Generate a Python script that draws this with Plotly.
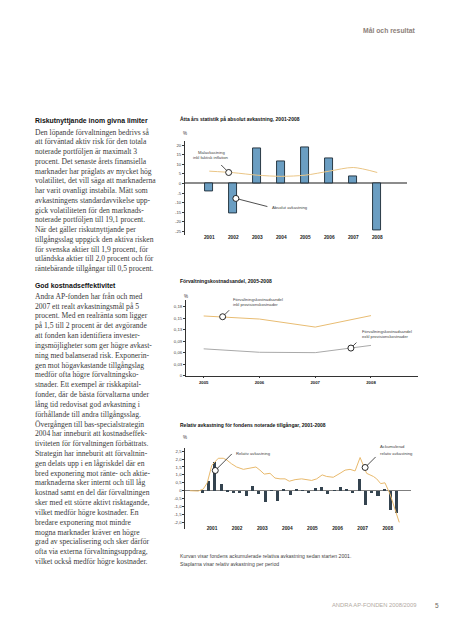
import plotly.graph_objects as go

W, H = 453, 640
# The page body adds an 8px margin around the plot div; compensate for it.
OFF = 8


def px(x):
    return (x - OFF) / W


def py(y):
    return 1 - (y - OFF) / H


# ---------------- Chart 1: absolute return ----------------
abs_years = [2001, 2002, 2003, 2004, 2005, 2006, 2007, 2008]
abs_return = [-4.0, -15.6, 18.2, 11.3, 18.9, 13.0, 3.9, -24.2]
target_return = [6.4, 5.6, 4.3, 3.7, 4.3, 6.4, 8.3, 5.7]
abs_ytick_vals = [20, 15, 10, 5, 0, -5, -10, -15, -20, -25]
abs_ytick_text = ["20", "15", "10", "5", "0", "-5", "-10", "-15", "-20", "-25"]

# ---------------- Chart 2: management cost share ----------------
cost_years = [2005, 2006, 2007, 2008]
cost_incl = [0.156, 0.148, 0.127, 0.157]
cost_excl = [0.070, 0.061, 0.060, 0.079]
cost_ytick_vals = [0, 0.03, 0.06, 0.09, 0.12, 0.15, 0.18]
cost_ytick_text = ["0", "0,03", "0,06", "0,09", "0,13", "0,15", "0,18"]

# ---------------- Chart 3: relative return ----------------
rel_years = [2001, 2002, 2003, 2004, 2005, 2006, 2007, 2008]
rel_quarterly = [
    -0.12, 0.60, 1.80, 0.40,
    -0.08, -0.15, -0.15, -0.36,
    0.29, -0.19, -0.73, 0.02,
    -0.62, 0.06, -0.29, 0.12,
    0.03, -0.17, 0.15, 0.23,
    -0.20, 0.05, 0.27, 0.10,
    -0.15, 0.75, -0.92, -0.17,
    -0.33, 0.10, -1.20, -1.38,
]
cum_time = [2000.62, 2000.95, 2001.15, 2001.31, 2001.49, 2001.62, 2001.75,
            2001.95, 2002.08, 2002.28, 2002.48, 2002.75, 2003.01, 2003.25,
            2003.41, 2003.58, 2003.81, 2004.01, 2004.21, 2004.41, 2004.58,
            2004.81, 2005.07, 2005.27, 2005.47, 2005.67, 2005.89, 2006.07,
            2006.33, 2006.60, 2006.80, 2007.00, 2007.20, 2007.40, 2007.66,
            2007.93, 2008.06, 2008.22, 2008.39, 2008.59, 2008.79, 2008.96]
cum_relative = [0.0, -0.02, 0.10, 0.50, 1.60, 1.80, 2.05,
                2.05, 1.95, 1.70, 1.50, 1.35, 1.45, 1.50,
                1.30, 1.05, 1.10, 0.80, 0.75, 0.75, 0.60,
                0.70, 0.75, 0.70, 0.65, 0.75, 1.00, 0.90,
                0.85, 1.10, 1.30, 1.35, 1.25, 2.10, 1.10,
                0.90, 0.75, 0.45, 0.50, -0.20, -1.20, -2.00]
rel_ytick_vals = [2.5, 2.0, 1.5, 1.0, 0.5, 0, -0.5, -1.0, -1.5, -2.0]
rel_ytick_text = ["2,5", "2,0", "1,5", "1,0", "0,5", "0", "-0,5", "-1,0", "-1,5", "-2,0"]

rel_x = [y + (q + 0.5) / 4 for y in rel_years for q in range(4)]

# ---------------- Body text ----------------
heading1 = "Riskutnyttjande inom givna limiter"
para1 = [
    "Den löpande förvaltningen bedrivs så",
    "att förväntad aktiv risk för den totala",
    "noterade portföljen är maximalt 3",
    "procent. Det senaste årets finansiella",
    "marknader har präglats av mycket hög",
    "volatilitet, det vill säga att marknaderna",
    "har varit ovanligt instabila. Mätt som",
    "avkastningens standardavvikelse upp-",
    "gick volatiliteten för den marknads-",
    "noterade portföljen till 19,1 procent.",
    "När det gäller riskutnyttjande per",
    "tillgångsslag uppgick den aktiva risken",
    "för svenska aktier till 1,9 procent, för",
    "utländska aktier till 2,0 procent och för",
    "räntebärande tillgångar till 0,5 procent.",
]
heading2 = "God kostnadseffektivitet"
para2 = [
    "Andra AP-fonden har från och med",
    "2007 ett realt avkastningsmål på 5",
    "procent. Med en realränta som ligger",
    "på 1,5 till 2 procent är det avgörande",
    "att fonden kan identifiera invester-",
    "ingsmöjligheter som ger högre avkast-",
    "ning med balanserad risk. Exponerin-",
    "gen mot högavkastande tillgångslag",
    "medför ofta högre förvaltningsko-",
    "stnader. Ett exempel är riskkapital-",
    "fonder, där de bästa förvaltarna under",
    "lång tid redovisat god avkastning i",
    "förhållande till andra tillgångsslag.",
    "Övergången till bas-specialstrategin",
    "2004 har inneburit att kostnadseffek-",
    "tiviteten för förvaltningen förbättrats.",
    "Strategin har inneburit att förvaltnin-",
    "gen delats upp i en lågriskdel där en",
    "bred exponering mot ränte- och aktie-",
    "marknaderna sker internt och till låg",
    "kostnad samt en del där förvaltningen",
    "sker med ett större aktivt risktagande,",
    "vilket medför högre kostnader. En",
    "bredare exponering mot mindre",
    "mogna marknader kräver en högre",
    "grad av specialisering och sker därför",
    "ofta via externa förvaltningsuppdrag,",
    "vilket också medför högre kostnader.",
]

SANS = "Liberation Sans, Arial, sans-serif"
SERIF = "Liberation Serif, Times New Roman, serif"
INK = "#2a2a2a"
AXC = "#333333"

fig = go.Figure()

# Chart 1 traces
fig.add_trace(go.Bar(x=abs_years, y=abs_return, width=0.32,
                     marker=dict(color="#6b9ec2", line=dict(color="#1c2a36", width=0.9)),
                     xaxis="x", yaxis="y", hoverinfo="skip"))
fig.add_trace(go.Scatter(x=abs_years, y=target_return, mode="lines",
                         line=dict(color="#eac585", width=1, shape="spline", smoothing=0.8),
                         xaxis="x", yaxis="y", hoverinfo="skip"))

# Chart 2 traces
fig.add_trace(go.Scatter(x=cost_years, y=cost_incl, mode="lines",
                         line=dict(color="#e8bc72", width=1),
                         xaxis="x2", yaxis="y2", hoverinfo="skip"))
fig.add_trace(go.Scatter(x=cost_years, y=cost_excl, mode="lines",
                         line=dict(color="#a9a9a9", width=1),
                         xaxis="x2", yaxis="y2", hoverinfo="skip"))

# Chart 3 traces
fig.add_trace(go.Bar(x=rel_x, y=rel_quarterly, width=0.12,
                     marker=dict(color="#34434f", line=dict(width=0)),
                     xaxis="x3", yaxis="y3", hoverinfo="skip"))
fig.add_trace(go.Scatter(x=cum_time, y=cum_relative, mode="lines",
                         line=dict(color="#e8b96c", width=1),
                         xaxis="x3", yaxis="y3", hoverinfo="skip"))

# Callout circles (x, y, axes)
callouts = [
    (2001.81, 5.7, "x", "y"),
    (2002.11, -7.8, "x", "y"),
    (2005.34, 0.154, "x2", "y2"),
    (2007.64, 0.072, "x2", "y2"),
    (2001.63, 1.28, "x3", "y3"),
    (2007.60, 1.47, "x3", "y3"),
]
for cx, cy, xa, ya in callouts:
    fig.add_trace(go.Scatter(x=[cx], y=[cy], mode="markers",
                             marker=dict(symbol="circle", size=6, color="white",
                                         line=dict(color="#111111", width=0.9)),
                             xaxis=xa, yaxis=ya, hoverinfo="skip"))

tick_font = dict(family=SANS, size=4.3, color="#444444")
year_font = dict(family=SANS, size=4.8, color="#222222", weight="bold")

layout = dict(
    width=W, height=H, margin=dict(l=0, r=0, t=0, b=0), autosize=False,
    paper_bgcolor="white", plot_bgcolor="white", showlegend=False,
    bargap=0,
    # chart 1
    xaxis=dict(domain=[px(185), px(407)], range=[1999.99, 2009.24], anchor="y",
               showline=False, showgrid=False, zeroline=False,
               tickvals=abs_years, ticktext=[str(y) for y in abs_years],
               tickfont=year_font, ticks="", ticklabelstandoff=-2, fixedrange=True),
    yaxis=dict(domain=[py(236), py(142)], range=[-26.8, 21.9], anchor="x",
               showline=True, linecolor=AXC, linewidth=0.8,
               showgrid=False, zeroline=True, zerolinecolor="#8c8c8c", zerolinewidth=1.8,
               tickvals=abs_ytick_vals, ticktext=abs_ytick_text,
               ticks="outside", ticklen=2, tickwidth=0.6, tickcolor=AXC,
               tickfont=tick_font, fixedrange=True),
    # chart 2
    xaxis2=dict(domain=[px(186), px(418)], range=[2004.683, 2008.843], anchor="y2",
                showline=True, linecolor=AXC, linewidth=0.8, showgrid=False, zeroline=False,
                tickvals=cost_years, ticktext=[str(y) for y in cost_years],
                ticks="outside", ticklen=2, tickwidth=0.6, tickcolor=AXC,
                tickfont=dict(family=SANS, size=4.3, color="#222222", weight="bold"),
                fixedrange=True),
    yaxis2=dict(domain=[py(377.3), py(301.7)], range=[0, 0.197], anchor="x2",
                showline=True, linecolor=AXC, linewidth=0.8, showgrid=False, zeroline=False,
                tickvals=cost_ytick_vals, ticktext=cost_ytick_text,
                ticks="outside", ticklen=2, tickwidth=0.6, tickcolor=AXC,
                tickfont=tick_font, fixedrange=True),
    # chart 3
    xaxis3=dict(domain=[px(185.3), px(410.7)], range=[2000.436, 2009.416], anchor="y3",
                showline=False, showgrid=False, zeroline=False,
                tickvals=[y + 0.5 for y in rel_years], ticktext=[str(y) for y in rel_years],
                tickfont=year_font, ticks="", ticklabelstandoff=-4, fixedrange=True),
    yaxis3=dict(domain=[py(531), py(450)], range=[-2.39, 2.704], anchor="x3",
                showline=True, linecolor=AXC, linewidth=0.8,
                showgrid=False, zeroline=True, zerolinecolor="#7f7f7f", zerolinewidth=1.2,
                tickvals=rel_ytick_vals, ticktext=rel_ytick_text,
                ticks="outside", ticklen=2, tickwidth=0.6, tickcolor=AXC,
                tickfont=tick_font, fixedrange=True),
)
fig.update_layout(**layout)

ann = []


def text(x, y, t, size, color=INK, family=SANS, weight="normal", xanchor="left", align="left"):
    ann.append(dict(x=px(x), y=py(y), xref="paper", yref="paper", text=t, showarrow=False,
                    xanchor=xanchor, yanchor="middle", align=align,
                    font=dict(family=family, size=size, color=color, weight=weight)))


# Page header & footer
text(417, 31, "Mål och resultat", 6.8, color="#8d817a", weight="bold", xanchor="right")
text(418, 608, "ANDRA AP-FONDEN 2008/2009", 5.8, color="#b3aaa3", xanchor="right")
text(433, 608, "5", 6.5, color="#6e6660")

# Body text
text(33, 121.5, heading1, 6.9, color="#111111", weight="bold")
for i, line in enumerate(para1):
    text(33, 132.6 + i * 9.8, line, 7.6, color="#3a3a3a", family=SERIF)
text(33, 287.3, heading2, 6.9, color="#111111", weight="bold")
for i, line in enumerate(para2):
    text(33, 297.7 + i * 9.87, line, 7.6, color="#3a3a3a", family=SERIF)

# Chart titles
text(178, 120, "Åtta års statistik på absolut avkastning, 2001-2008", 5.0, color="#111111", weight="bold")
text(178, 282.7, "Förvaltningskostnadsandel, 2005-2008", 5.0, color="#111111", weight="bold")
text(178, 427.3, "Relativ avkastning för fondens noterade tillgångar, 2001-2008", 5.0, color="#111111", weight="bold")

# % labels
text(185, 133.7, "%", 4.5, color="#333333", xanchor="center")
text(186, 297.7, "%", 4.5, color="#333333", xanchor="center")
text(185.3, 439.3, "%", 4.5, color="#333333", xanchor="center")

# Callout labels
CL = "#444444"
text(211, 152.7, "Målavkastning", 4.2, color=CL, xanchor="center")
text(211, 158.0, "inkl faktisk inflation", 4.2, color=CL, xanchor="center")
text(269.5, 208, "Absolut avkastning", 4.2, color=CL)
text(231, 300.7, "Förvaltningskostnadsandel", 4.2, color=CL)
text(231, 306.0, "inkl provisionskostnader", 4.2, color=CL)
text(360, 332.7, "Förvaltningskostnadsandel", 4.2, color=CL)
text(360, 338.0, "exkl provisionskostnader", 4.2, color=CL)
text(234, 455.3, "Relativ avkastning", 4.2, color=CL)
text(378, 449.0, "Ackumulerad", 4.2, color=CL)
text(378, 455.3, "relativ avkastning", 4.2, color=CL)

# Chart 3 footnote
text(178, 558.3, "Kurvan visar fondens ackumulerade relativa avkastning sedan starten 2001.", 5.1, color="#444444")
text(178, 566.7, "Staplarna visar relativ avkastning per period", 5.1, color="#444444")

# Leader lines from callout circles
leaders = [
    (0, -9, -9), (1, 33, 8.5), (2, 8, -8), (3, 7, -7), (4, 18, -18), (5, 12, -12),
]
for idx, ax, ay in leaders:
    cx, cy, xa, ya = callouts[idx]
    ann.append(dict(x=cx, y=cy, xref=xa, yref=ya, text="", showarrow=True,
                    ax=ax, ay=ay, axref="pixel", ayref="pixel",
                    arrowhead=0, arrowwidth=0.8, arrowcolor="#222222", standoff=3))

fig.update_layout(annotations=ann)
fig.write_html("out.html")
